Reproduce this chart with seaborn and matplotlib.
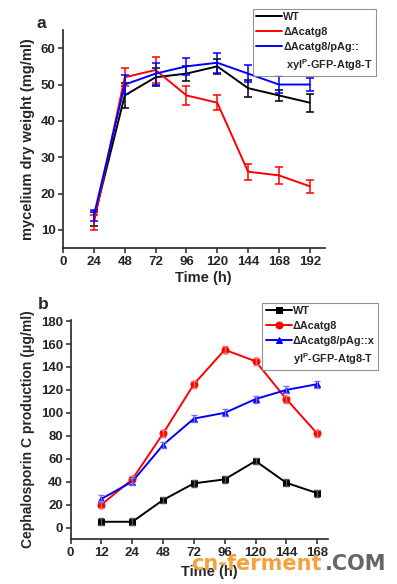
import numpy as np
import pandas as pd
import seaborn as sns
import matplotlib.pyplot as plt
from matplotlib.lines import Line2D

# panel a: mycelium dry weight
time_a = [24, 48, 72, 96, 120, 144, 168, 192]
wt_a = [13, 47, 52, 53, 55, 49, 47, 45]
wt_a_err = [2, 3.5, 2.5, 2, 2, 2.3, 1.5, 2.5]
ko_a = [12, 52, 54, 47, 45, 26, 25, 22]
ko_a_err = [2, 2.5, 3.5, 2.5, 2, 2.2, 2.3, 1.8]
comp_a = [14, 50, 53, 55, 56, 53, 50, 50]
comp_a_err = [1.5, 2.5, 3, 2.3, 2.7, 2.3, 2.3, 1.8]

# panel b: cephalosporin C production
time_b = [12, 24, 48, 72, 96, 120, 144, 168]
wt_b = [5, 5, 24, 38.5, 42, 58, 39, 30]
ko_b = [20, 42, 82, 125, 155, 145, 112, 82]
comp_b = [25, 40, 72, 95, 100, 112, 120, 125]
err_b = [3, 3, 3, 3, 3, 3, 3, 3]

labels_a = ["WT", "ΔAcatg8", "ΔAcatg8/pAg::", " xyl$^\\mathregular{P}$-GFP-Atg8-T"]
labels_b = ["WT", "ΔAcatg8", "ΔAcatg8/pAg::x", "yl$^\\mathregular{P}$-GFP-Atg8-T"]
colors = ["black", "red", "blue"]
err_colors_b = ["#555555", "#f07070", "#7070f0"]
markers = ["s", "o", "^"]

sns.set_style("ticks")
plt.rcParams["font.family"] = ["Liberation Sans", "DejaVu Sans"]
plt.rcParams["font.weight"] = "bold"
plt.rcParams["mathtext.default"] = "bf"

fig = plt.figure(figsize=(3.97, 5.84), dpi=100)
ax1 = fig.add_axes([0.159, 0.5753, 0.660, 0.3733])
ax2 = fig.add_axes([0.178, 0.0771, 0.648, 0.375])

blank = Line2D([], [], color="none")


def add_legend(ax, anchor, labels):
    handles = ax.get_legend_handles_labels()[0][:3] + [blank]
    leg = ax.legend(handles, labels, loc="upper left", bbox_to_anchor=anchor,
                    fontsize=7.8, frameon=True, fancybox=False, handlelength=2.4,
                    handletextpad=0.1, borderpad=0.3, labelspacing=0.45,
                    borderaxespad=0)
    leg.get_frame().set_edgecolor("#777777")
    leg.get_frame().set_linewidth(0.8)
    return leg


# ---- panel a
for y, e, c, lab in zip([wt_a, ko_a, comp_a], [wt_a_err, ko_a_err, comp_a_err], colors, labels_a):
    d = pd.DataFrame({"time": time_a, "value": y})
    sns.lineplot(data=d, x="time", y="value", color=c, linewidth=1.4, label=lab, ax=ax1)
    ax1.errorbar(time_a, y, yerr=e, fmt="none", ecolor=c, elinewidth=1.1,
                 capsize=3, capthick=1.1)
ax1.set_xlim(0, 204)
ax1.set_ylim(5, 65)
ax1.set_xticks([0, 24, 48, 72, 96, 120, 144, 168, 192])
ax1.set_xticklabels(["0", "24", "48", "72", "96", "120", "144", "168", "192"])
ax1.set_yticks([10, 20, 30, 40, 50, 60])
ax1.set_xlabel("Time (h)", fontsize=10.5, fontweight="bold")
ax1.xaxis.set_label_coords(0.535, -0.105)
ax1.set_ylabel("mycelium dry weight (mg/ml)", fontsize=10.5, fontweight="bold", labelpad=4)
add_legend(ax1, (0.725, 1.097), labels_a)
ax1.text(-0.10, 1.01, "a", transform=ax1.transAxes, fontsize=12.5, fontweight="bold")

# ---- panel b
pos_b = list(range(1, 9))
for y, c, ec, m, lab in zip([wt_b, ko_b, comp_b], colors, err_colors_b, markers, labels_b):
    d = pd.DataFrame({"pos": pos_b, "value": y})
    sns.lineplot(data=d, x="pos", y="value", color=c, marker=m, markersize=5,
                 markeredgecolor=c, linewidth=1.4, label=lab, ax=ax2)
    ax2.errorbar(pos_b, y, yerr=err_b, fmt="none", ecolor=ec, elinewidth=1,
                 capsize=2.5, capthick=1, zorder=3)
ax2.set_xlim(0, 8.35)
ax2.set_ylim(-10, 181)
ax2.set_xticks(range(0, 9))
ax2.set_xticklabels(["0"] + [str(t) for t in time_b])
ax2.set_yticks(range(0, 181, 20))
ax2.set_xlabel("Time (h)", fontsize=10.5, fontweight="bold")
ax2.xaxis.set_label_coords(0.54, -0.119)
ax2.set_ylabel("Cephalosporin C production (μg/ml)", fontsize=10, fontweight="bold", labelpad=4)
add_legend(ax2, (0.745, 1.078), labels_b)
ax2.text(-0.127, 1.05, "b", transform=ax2.transAxes, fontsize=12.5, fontweight="bold")

for ax in (ax1, ax2):
    sns.despine(ax=ax)
    ax.spines["left"].set_linewidth(1.2)
    ax.spines["bottom"].set_linewidth(1.2)
    ax.tick_params(direction="out", length=3.5, width=1.1, labelsize=9.5, pad=2)
    for t in ax.get_xticklabels() + ax.get_yticklabels():
        t.set_fontweight("bold")

# watermark
fig.text(0.482, 0.024, "cn-ferment", color="#f5a23a", fontsize=15, fontweight="bold",
         family="DejaVu Sans", zorder=10)
fig.text(0.818, 0.024, ".COM", color="#666666", fontsize=15, fontweight="bold",
         family="DejaVu Sans", zorder=10)

fig.savefig("out.png", dpi=100)
